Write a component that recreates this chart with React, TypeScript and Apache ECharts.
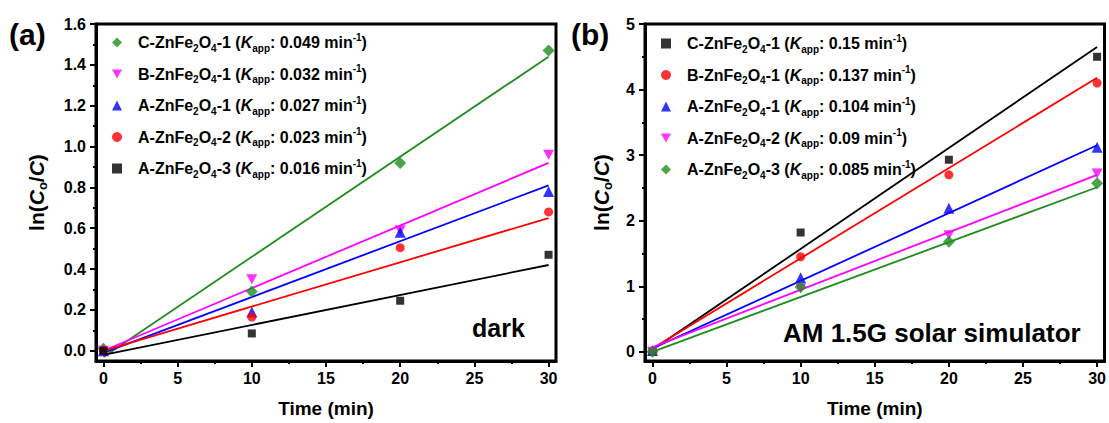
import React, { useEffect, useRef } from "react";
import * as echarts from "echarts";

const FONT = "Liberation Sans, Arial, sans-serif";

const times = [0, 10, 20, 30];
const fitTimes = [0, 30];

const xMajorTicks = [0, 5, 10, 15, 20, 25, 30];
const xMinorTicks = [2.5, 7.5, 12.5, 17.5, 22.5, 27.5];
const yMajorTicksA = [0, 0.2, 0.4, 0.6, 0.8, 1.0, 1.2, 1.4, 1.6];
const yMinorTicksA = [0.1, 0.3, 0.5, 0.7, 0.9, 1.1, 1.3, 1.5];
const yMajorTicksB = [0, 1, 2, 3, 4, 5];
const yMinorTicksB = [0.5, 1.5, 2.5, 3.5, 4.5];

// Panel (a): dark
const samplesA = ["C-ZnFe2O4-1", "B-ZnFe2O4-1", "A-ZnFe2O4-1", "A-ZnFe2O4-2", "A-ZnFe2O4-3"];
const kappA = ["0.049", "0.032", "0.027", "0.023", "0.016"];
const colorsA = ["#1e8c1e", "#ff00ff", "#0000ff", "#ff0000", "#000000"];
const symbolsA = ["diamond", "invtriangle", "triangle", "circle", "rect"];
const valuesA_C1 = [0.01, 0.29, 0.92, 1.47];
const valuesA_B1 = [0.0, 0.35, 0.59, 0.96];
const valuesA_A1 = [0.0, 0.19, 0.58, 0.78];
const valuesA_A2 = [0.0, 0.165, 0.505, 0.68];
const valuesA_A3 = [0.0, 0.085, 0.245, 0.47];
const fitA_C1 = [-0.03, 1.44];
const fitA_B1 = [0.0, 0.92];
const fitA_A1 = [-0.01, 0.81];
const fitA_A2 = [0.0, 0.65];
const fitA_A3 = [-0.02, 0.42];

// Panel (b): AM 1.5G solar simulator
const samplesB = ["C-ZnFe2O4-1", "B-ZnFe2O4-1", "A-ZnFe2O4-1", "A-ZnFe2O4-2", "A-ZnFe2O4-3"];
const kappB = ["0.15", "0.137", "0.104", "0.09", "0.085"];
const colorsB = ["#000000", "#ff0000", "#0000ff", "#ff00ff", "#1e8c1e"];
const symbolsB = ["rect", "circle", "triangle", "invtriangle", "diamond"];
const valuesB_C1 = [0.0, 1.82, 2.93, 4.5];
const valuesB_B1 = [0.0, 1.45, 2.7, 4.1];
const valuesB_A1 = [0.02, 1.13, 2.19, 3.12];
const valuesB_A2 = [0.0, 0.97, 1.78, 2.72];
const valuesB_A3 = [0.0, 0.99, 1.68, 2.57];
const fitB_C1 = [0.03, 4.65];
const fitB_B1 = [0.05, 4.18];
const fitB_A1 = [0.05, 3.15];
const fitB_A2 = [0.07, 2.7];
const fitB_A3 = [0.0, 2.51];

const valuesA = [valuesA_C1, valuesA_B1, valuesA_A1, valuesA_A2, valuesA_A3];
const fitsA = [fitA_C1, fitA_B1, fitA_A1, fitA_A2, fitA_A3];
const valuesB = [valuesB_C1, valuesB_B1, valuesB_A1, valuesB_A2, valuesB_A3];
const fitsB = [fitB_C1, fitB_B1, fitB_A1, fitB_A2, fitB_A3];

const INV_TRIANGLE = "path://M0,0 L10,0 L5,9 Z";

const seriesName = (s: string, k: string) => `${s} (Kapp: ${k} min-1)`;

const richLabel = (s: string, k: string) => {
  const m = s.match(/^(.*)ZnFe2O4(.*)$/);
  const pre = m ? m[1] : "";
  const post = m ? m[2] : "";
  return `{gap| }${pre}ZnFe{sub|2}O{sub|4}${post} ({it|K}{sub|app}: ${k} min{sup|-1})`;
};

const symbolSize: Record<string, number> = {
  diamond: 12,
  invtriangle: 11,
  triangle: 11,
  circle: 9,
  rect: 8,
};

function buildSeries(
  gridIdx: number,
  samples: string[],
  ks: string[],
  colors: string[],
  symbols: string[],
  values: number[][],
  fits: number[][]
) {
  const out: any[] = [];
  samples.forEach((s, i) => {
    out.push({
      type: "line",
      xAxisIndex: gridIdx,
      yAxisIndex: gridIdx,
      symbol: "none",
      silent: true,
      z: 2,
      lineStyle: { color: colors[i], width: 1.8 },
      data: fitTimes.map((t, j) => [t, fits[i][j]]),
    });
  });
  samples.forEach((s, i) => {
    const sym = symbols[i];
    out.push({
      type: "scatter",
      name: seriesName(s, ks[i]),
      xAxisIndex: gridIdx,
      yAxisIndex: gridIdx,
      symbol: sym === "invtriangle" ? INV_TRIANGLE : sym,
      symbolKeepAspect: true,
      symbolSize: symbolSize[sym],
      itemStyle: { color: colors[i] },
      z: 3,
      data: times.map((t, j) => [t, values[i][j]]),
    });
  });
  return out;
}

const legendRich = {
  gap: { width: 11, fontSize: 16 },
  sub: { fontSize: 10, fontWeight: "bold", fontFamily: FONT, color: "#000", padding: [11, 0, 0, 0] },
  sup: { fontSize: 10, fontWeight: "bold", fontFamily: FONT, color: "#000", padding: [0, 0, 11, 0] },
  it: { fontSize: 16, fontWeight: "bold", fontStyle: "italic", fontFamily: FONT, color: "#000" },
};

function makeLegend(samples: string[], ks: string[], left: number, top: number) {
  const names = samples.map((s, i) => seriesName(s, ks[i]));
  const map: Record<string, string> = {};
  samples.forEach((s, i) => (map[names[i]] = richLabel(s, ks[i])));
  return {
    data: names,
    orient: "vertical",
    left,
    top,
    padding: 0,
    itemGap: 10.5,
    itemWidth: 10,
    itemHeight: 10,
    selectedMode: false,
    formatter: (n: string) => map[n],
    textStyle: {
      fontSize: 16,
      fontWeight: "bold",
      fontFamily: FONT,
      color: "#000",
      lineHeight: 20,
      rich: legendRich,
    },
  };
}

const axisNameStyleY = {
  fontSize: 21,
  fontWeight: "bold",
  fontFamily: FONT,
  color: "#000",
  rich: {
    it: { fontSize: 21, fontWeight: "bold", fontStyle: "italic", fontFamily: FONT, color: "#000" },
    sub: { fontSize: 13, fontWeight: "bold", fontFamily: FONT, color: "#000", padding: [12, 0, 0, 0] },
  },
};

function mainX(gridIndex: number) {
  return {
    type: "value",
    gridIndex,
    min: -0.5,
    max: 30.5,
    axisLine: { show: true, onZero: false, lineStyle: { color: "#000", width: 3 } },
    axisTick: { show: true, inside: false, length: 6, customValues: xMajorTicks, lineStyle: { color: "#000", width: 2 } },
    axisLabel: {
      customValues: xMajorTicks,
      margin: 9,
      fontSize: 16,
      fontWeight: "bold",
      fontFamily: FONT,
      color: "#000",
    },
    splitLine: { show: false },
    name: "Time (min)",
    nameLocation: "middle",
    nameGap: 38,
    nameTextStyle: { fontSize: 19, fontWeight: "bold", fontFamily: FONT, color: "#000" },
  };
}

function minorX(gridIndex: number) {
  return {
    type: "value",
    gridIndex,
    position: "bottom",
    min: -0.5,
    max: 30.5,
    axisLine: { show: false, onZero: false },
    axisTick: { show: true, inside: false, length: 3, customValues: xMinorTicks, lineStyle: { color: "#000", width: 2 } },
    axisLabel: { show: false },
    splitLine: { show: false },
  };
}

function mainY(gridIndex: number, min: number, max: number, ticks: number[], digits: number, nameGap: number) {
  return {
    type: "value",
    gridIndex,
    min,
    max,
    axisLine: { show: true, onZero: false, lineStyle: { color: "#000", width: 3 } },
    axisTick: { show: true, inside: false, length: 6, customValues: ticks, lineStyle: { color: "#000", width: 2 } },
    axisLabel: {
      customValues: ticks,
      margin: 10,
      fontSize: 16,
      fontWeight: "bold",
      fontFamily: FONT,
      color: "#000",
      formatter: (v: number) => v.toFixed(digits),
    },
    splitLine: { show: false },
    name: "ln({it|C}{sub|o}/{it|C})",
    nameLocation: "middle",
    nameGap,
    nameTextStyle: axisNameStyleY,
  };
}

function minorY(gridIndex: number, min: number, max: number, ticks: number[]) {
  return {
    type: "value",
    gridIndex,
    position: "left",
    min,
    max,
    axisLine: { show: false, onZero: false },
    axisTick: { show: true, inside: false, length: 3, customValues: ticks, lineStyle: { color: "#000", width: 2 } },
    axisLabel: { show: false },
    splitLine: { show: false },
  };
}

export default function App() {
  const ref = useRef<HTMLDivElement>(null);
  useEffect(() => {
    if (!ref.current) return;
    const chart = echarts.init(ref.current, undefined, { renderer: "svg" });
    const option: any = {
      animation: false,
      backgroundColor: "#fff",
      grid: [
        { left: 96, top: 24, width: 460, height: 337, show: true, borderColor: "#000", borderWidth: 3, backgroundColor: "transparent" },
        { left: 645, top: 24, width: 460, height: 337, show: true, borderColor: "#000", borderWidth: 3, backgroundColor: "transparent" },
      ],
      xAxis: [mainX(0), mainX(1), minorX(0), minorX(1)],
      yAxis: [
        mainY(0, -0.05, 1.6, yMajorTicksA, 1, 47),
        mainY(1, -0.14, 5, yMajorTicksB, 0, 31),
        minorY(0, -0.05, 1.6, yMinorTicksA),
        minorY(1, -0.14, 5, yMinorTicksB),
      ],
      legend: [makeLegend(samplesA, kappA, 112, 32), makeLegend(samplesB, kappB, 661, 33)],
      series: [
        ...buildSeries(0, samplesA, kappA, colorsA, symbolsA, valuesA, fitsA),
        ...buildSeries(1, samplesB, kappB, colorsB, symbolsB, valuesB, fitsB),
      ],
      graphic: [
        { type: "text", left: 9, top: 19, style: { text: "(a)", font: `bold 30px ${FONT}`, fill: "#000" } },
        { type: "text", left: 571, top: 19, style: { text: "(b)", font: `bold 30px ${FONT}`, fill: "#000" } },
        { type: "text", left: 472, top: 315, style: { text: "dark", font: `bold 25px ${FONT}`, fill: "#000" } },
        { type: "text", left: 783, top: 320, style: { text: "AM 1.5G solar simulator", font: `bold 26px ${FONT}`, fill: "#000" } },
      ],
    };
    chart.setOption(option);
    return () => chart.dispose();
  }, []);
  return (
    <div
      ref={ref}
      style={{ position: "absolute", left: 0, top: 0, width: 1109, height: 423, background: "#fff" }}
    />
  );
}
